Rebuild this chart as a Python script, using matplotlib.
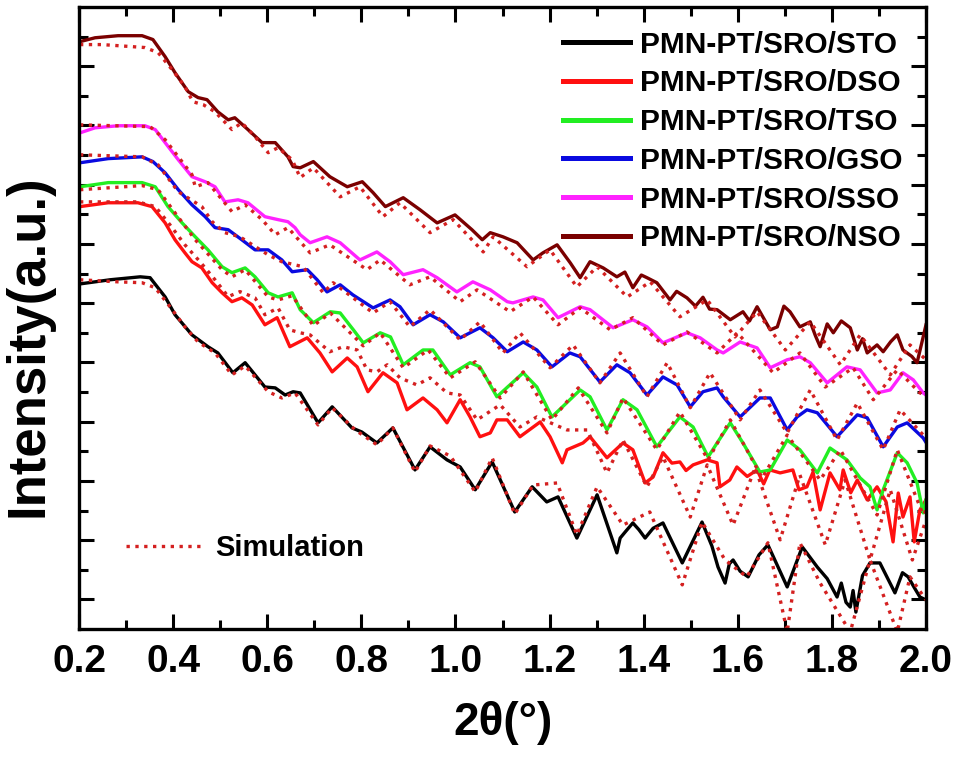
import numpy as np
import matplotlib.pyplot as plt

plt.rcParams['font.family'] = ['Liberation Sans', 'DejaVu Sans']
plt.rcParams['font.weight'] = 'bold'

# (2theta, log intensity offset)
sto_exp = [(0.202, 10.65), (0.266, 10.79), (0.330, 10.89), (0.351, 10.86), (0.383, 10.21),
           (0.404, 9.61), (0.440, 8.93), (0.474, 8.53), (0.495, 8.32), (0.527, 7.65),
           (0.553, 7.99), (0.595, 7.17), (0.617, 7.14), (0.638, 6.90), (0.655, 7.01),
           (0.670, 6.97), (0.708, 5.96), (0.738, 6.50), (0.780, 5.79), (0.801, 5.65),
           (0.833, 5.28), (0.867, 5.79), (0.914, 4.37), (0.946, 5.15), (0.982, 4.71),
           (1.010, 4.47), (1.042, 3.70), (1.078, 4.64), (1.126, 2.95), (1.163, 3.80),
           (1.194, 3.29), (1.218, 3.46), (1.258, 2.07), (1.301, 3.53), (1.343, 1.57),
           (1.350, 2.07), (1.362, 2.30), (1.377, 2.58), (1.390, 2.35), (1.403, 2.07),
           (1.420, 2.40), (1.441, 2.58), (1.482, 1.23), (1.524, 2.61), (1.545, 1.80),
           (1.558, 1.09), (1.573, 0.55), (1.582, 1.20), (1.590, 1.33), (1.605, 0.95),
           (1.622, 0.76), (1.645, 1.50), (1.664, 1.84), (1.705, 0.42), (1.737, 1.77),
           (1.769, 1.09), (1.790, 0.70), (1.811, 0.08), (1.820, 0.55), (1.830, -0.10),
           (1.839, -0.26), (1.845, 0.30), (1.851, -0.43), (1.865, 0.80), (1.881, 1.23),
           (1.902, 1.23), (1.934, 0.22), (1.950, 0.90), (1.962, 0.76), (1.975, 0.40),
           (1.987, 0.08), (2.000, -0.02)]
sto_sim = [(0.202, 10.79), (0.283, 10.72), (0.334, 10.69), (0.362, 10.52), (0.398, 9.78),
           (0.425, 9.20), (0.453, 8.69), (0.489, 8.32), (0.525, 7.58), (0.553, 7.88),
           (0.602, 7.01), (0.631, 6.80), (0.659, 6.97), (0.708, 5.89), (0.738, 6.47),
           (0.787, 5.72), (0.833, 5.22), (0.867, 5.79), (0.914, 4.30), (0.946, 5.18),
           (0.989, 4.84), (1.042, 3.63), (1.078, 4.78), (1.126, 2.88), (1.165, 3.86),
           (1.216, 3.93), (1.258, 2.18), (1.301, 3.80), (1.356, 2.51), (1.413, 2.95),
           (1.482, 0.49), (1.524, 2.61), (1.573, 1.33), (1.619, 0.76), (1.664, 1.91),
           (1.705, -1.10), (1.732, 1.91), (1.775, 0.55), (1.839, -1.10), (1.881, 1.33),
           (1.939, -1.10), (1.966, 0.76), (2.000, -0.02)]

dso_exp = [(0.202, 13.26), (0.262, 13.39), (0.325, 13.39), (0.355, 13.26), (0.383, 12.71),
           (0.404, 12.14), (0.425, 11.70), (0.440, 11.40), (0.461, 11.19), (0.483, 10.69),
           (0.504, 10.35), (0.525, 10.05), (0.546, 10.18), (0.568, 9.94), (0.595, 9.27),
           (0.621, 9.51), (0.648, 8.53), (0.685, 8.83), (0.712, 8.32), (0.738, 7.68),
           (0.770, 8.15), (0.791, 7.85), (0.814, 7.01), (0.846, 7.65), (0.876, 7.31),
           (0.897, 6.40), (0.931, 6.80), (0.961, 6.40), (0.982, 5.96), (1.010, 6.74),
           (1.031, 6.16), (1.052, 5.49), (1.074, 5.62), (1.088, 6.06), (1.110, 6.06),
           (1.137, 5.49), (1.180, 5.99), (1.201, 5.49), (1.227, 4.61), (1.237, 5.05),
           (1.271, 5.28), (1.286, 5.49), (1.322, 4.78), (1.356, 5.28), (1.377, 5.05),
           (1.403, 3.93), (1.420, 4.13), (1.441, 4.95), (1.460, 4.60), (1.477, 4.64),
           (1.490, 4.35), (1.505, 4.54), (1.535, 4.71), (1.556, 4.61), (1.562, 3.80),
           (1.583, 4.03), (1.598, 4.47), (1.620, 4.15), (1.641, 4.37), (1.655, 3.90),
           (1.668, 4.37), (1.690, 4.27), (1.717, 4.37), (1.730, 3.70), (1.747, 3.80),
           (1.760, 4.30), (1.775, 3.02), (1.796, 4.27), (1.817, 3.70), (1.824, 4.37),
           (1.840, 3.60), (1.854, 4.03), (1.875, 3.36), (1.896, 3.80), (1.915, 3.30),
           (1.930, 1.94), (1.941, 3.59), (1.951, 2.78), (1.966, 3.46), (1.975, 1.94),
           (1.987, 3.02), (2.000, 3.36)]
dso_sim = [(0.202, 13.42), (0.325, 13.42), (0.362, 13.26), (0.393, 12.65), (0.425, 11.97),
           (0.457, 11.40), (0.489, 10.79), (0.517, 10.22), (0.542, 10.39), (0.574, 10.18),
           (0.595, 9.61), (0.623, 9.84), (0.648, 9.10), (0.670, 9.00), (0.691, 8.93),
           (0.733, 8.36), (0.761, 8.53), (0.791, 8.42), (0.812, 7.75), (0.833, 7.68),
           (0.855, 7.92), (0.882, 7.48), (0.918, 7.24), (0.946, 7.48), (0.982, 6.97),
           (1.010, 6.90), (1.046, 6.06), (1.095, 6.57), (1.137, 5.82), (1.173, 6.16),
           (1.237, 5.72), (1.280, 5.72), (1.322, 4.27), (1.356, 5.38), (1.407, 3.80),
           (1.441, 4.81), (1.499, 2.78), (1.535, 4.54), (1.590, 2.51), (1.637, 4.44),
           (1.690, 2.01), (1.732, 4.20), (1.786, 1.84), (1.828, 4.03), (1.881, 1.33),
           (1.924, 3.70), (1.971, 1.33), (2.000, 2.68)]

tso_exp = [(0.202, 13.93), (0.262, 14.07), (0.334, 14.07), (0.362, 13.93), (0.389, 13.26),
           (0.419, 12.71), (0.447, 12.24), (0.474, 11.80), (0.504, 11.23), (0.525, 11.03),
           (0.553, 11.19), (0.574, 10.89), (0.602, 10.35), (0.623, 10.21), (0.653, 10.35),
           (0.670, 9.78), (0.698, 9.34), (0.734, 9.71), (0.755, 9.67), (0.783, 9.10),
           (0.804, 8.66), (0.840, 9.00), (0.862, 8.86), (0.889, 7.92), (0.931, 8.42),
           (0.952, 8.42), (0.989, 7.58), (1.031, 7.99), (1.052, 7.85), (1.088, 6.84),
           (1.144, 7.65), (1.173, 7.17), (1.205, 6.16), (1.265, 7.07), (1.286, 6.84),
           (1.322, 5.72), (1.356, 6.74), (1.386, 6.40), (1.428, 5.15), (1.477, 6.16),
           (1.505, 5.82), (1.537, 4.81), (1.556, 5.28), (1.584, 5.96), (1.611, 5.28),
           (1.647, 4.30), (1.669, 4.37), (1.705, 5.38), (1.732, 5.05), (1.769, 4.27),
           (1.796, 5.11), (1.832, 4.71), (1.860, 4.10), (1.881, 3.80), (1.896, 3.02),
           (1.909, 3.70), (1.939, 4.95), (1.960, 4.61), (1.981, 3.93), (1.994, 2.92),
           (2.000, 3.36)]
tso_sim = [(0.202, 13.83), (0.334, 13.97), (0.368, 13.83), (0.404, 13.05), (0.447, 12.14),
           (0.504, 11.13), (0.525, 10.89), (0.553, 11.13), (0.602, 10.21), (0.623, 10.11),
           (0.653, 10.25), (0.698, 9.24), (0.734, 9.67), (0.804, 8.56), (0.840, 9.00),
           (0.889, 7.82), (0.942, 8.42), (0.989, 7.48), (1.042, 8.02), (1.095, 6.80),
           (1.144, 7.68), (1.205, 6.06), (1.261, 7.14), (1.322, 5.62), (1.356, 6.80),
           (1.428, 5.05), (1.477, 6.33), (1.537, 4.71), (1.584, 6.06), (1.652, 4.10),
           (1.705, 5.55), (1.775, 4.03), (1.818, 5.05), (1.896, 2.85), (1.939, 5.05),
           (1.994, 2.85), (2.000, 3.00)]

gso_exp = [(0.202, 14.74), (0.262, 14.88), (0.334, 14.94), (0.357, 14.78), (0.383, 14.40),
           (0.411, 13.83), (0.440, 13.32), (0.468, 12.92), (0.489, 12.55), (0.517, 12.48),
           (0.546, 12.14), (0.574, 11.80), (0.602, 11.80), (0.631, 11.46), (0.653, 11.06),
           (0.685, 11.13), (0.706, 10.79), (0.727, 10.38), (0.755, 10.62), (0.782, 10.28),
           (0.825, 9.84), (0.861, 10.11), (0.882, 9.88), (0.910, 9.27), (0.946, 9.61),
           (0.974, 9.37), (1.010, 8.83), (1.052, 9.17), (1.080, 8.83), (1.110, 8.36),
           (1.144, 8.69), (1.173, 8.42), (1.205, 7.85), (1.243, 8.32), (1.265, 8.19),
           (1.307, 7.34), (1.343, 7.92), (1.371, 7.65), (1.407, 6.90), (1.441, 7.51),
           (1.471, 7.24), (1.499, 6.50), (1.526, 7.01), (1.556, 7.14), (1.569, 6.84),
           (1.605, 6.16), (1.647, 6.80), (1.669, 6.80), (1.705, 5.72), (1.726, 6.16),
           (1.747, 6.40), (1.769, 6.30), (1.811, 5.49), (1.854, 6.23), (1.875, 6.13),
           (1.909, 5.15), (1.939, 5.82), (1.960, 5.96), (1.994, 5.45), (2.000, 5.30)]
gso_sim = [(0.202, 15.01), (0.334, 14.94), (0.368, 14.67), (0.411, 13.76), (0.461, 13.26),
           (0.483, 12.75), (0.510, 12.38), (0.542, 12.24), (0.602, 11.63), (0.631, 11.40),
           (0.676, 11.23), (0.719, 10.35), (0.740, 10.69), (0.825, 9.67), (0.861, 10.05),
           (0.903, 9.20), (0.946, 9.78), (1.010, 8.76), (1.052, 9.37), (1.101, 8.32),
           (1.137, 9.00), (1.201, 7.82), (1.250, 8.59), (1.307, 7.31), (1.350, 8.32),
           (1.407, 6.84), (1.450, 7.99), (1.499, 6.47), (1.541, 7.65), (1.605, 6.06),
           (1.647, 7.07), (1.705, 5.62), (1.754, 7.07), (1.811, 5.38), (1.854, 6.63),
           (1.909, 5.05), (1.945, 6.40), (1.994, 5.55), (2.000, 5.50)]

sso_exp = [(0.202, 15.75), (0.234, 15.92), (0.283, 15.99), (0.340, 15.99), (0.362, 15.86),
           (0.383, 15.42), (0.411, 14.84), (0.440, 14.27), (0.468, 14.10), (0.489, 13.93),
           (0.510, 13.42), (0.538, 13.49), (0.559, 13.39), (0.595, 12.92), (0.623, 12.82),
           (0.644, 12.75), (0.659, 12.55), (0.670, 12.31), (0.691, 12.04), (0.727, 12.24),
           (0.755, 12.04), (0.797, 11.46), (0.833, 11.73), (0.861, 11.40), (0.889, 10.96),
           (0.931, 11.13), (0.961, 10.86), (1.003, 10.38), (1.037, 10.72), (1.074, 10.45),
           (1.110, 10.05), (1.122, 10.01), (1.165, 10.21), (1.186, 10.11), (1.218, 9.51),
           (1.265, 9.88), (1.286, 9.78), (1.335, 9.17), (1.377, 9.44), (1.407, 9.20),
           (1.441, 8.66), (1.492, 9.00), (1.520, 8.83), (1.556, 8.42), (1.569, 8.32),
           (1.605, 8.69), (1.641, 8.49), (1.669, 7.82), (1.705, 8.09), (1.732, 8.19),
           (1.754, 7.99), (1.790, 7.31), (1.832, 7.85), (1.860, 7.75), (1.896, 6.97),
           (1.924, 7.07), (1.951, 7.65), (1.973, 7.41), (1.994, 6.97), (2.000, 6.90)]
sso_sim = [(0.202, 16.02), (0.351, 15.96), (0.383, 15.52), (0.440, 14.34), (0.447, 13.93),
           (0.474, 14.07), (0.525, 13.09), (0.553, 13.32), (0.589, 12.82), (0.617, 12.31),
           (0.644, 12.55), (0.691, 11.70), (0.733, 11.97), (0.812, 11.13), (0.840, 11.46),
           (0.903, 10.62), (0.946, 10.89), (1.010, 10.05), (1.046, 10.45), (1.116, 9.71),
           (1.165, 10.21), (1.218, 9.27), (1.265, 9.84), (1.329, 9.10), (1.377, 9.51),
           (1.441, 8.59), (1.492, 9.03), (1.556, 8.32), (1.599, 9.00), (1.675, 7.65),
           (1.732, 8.32), (1.786, 7.17), (1.845, 7.82), (1.888, 6.74), (1.939, 7.75),
           (1.987, 6.97), (2.000, 6.90)]

nso_exp = [(0.202, 18.83), (0.234, 18.96), (0.283, 19.03), (0.334, 19.03), (0.357, 18.90),
           (0.383, 18.32), (0.404, 17.78), (0.432, 17.14), (0.453, 16.94), (0.472, 16.87),
           (0.495, 16.46), (0.517, 16.19), (0.531, 16.26), (0.559, 15.86), (0.589, 15.42),
           (0.617, 15.42), (0.644, 14.94), (0.655, 14.61), (0.670, 14.57), (0.698, 14.78),
           (0.733, 14.27), (0.770, 13.93), (0.802, 14.10), (0.825, 13.73), (0.851, 13.26),
           (0.889, 13.56), (0.925, 13.15), (0.961, 12.71), (0.999, 12.98), (1.035, 12.48),
           (1.057, 12.14), (1.074, 12.38), (1.101, 12.24), (1.131, 12.04), (1.165, 11.46),
           (1.186, 11.70), (1.216, 11.97), (1.244, 11.36), (1.265, 10.86), (1.286, 11.40),
           (1.314, 11.19), (1.343, 10.89), (1.360, 11.05), (1.377, 10.52), (1.395, 10.95),
           (1.407, 10.86), (1.428, 10.69), (1.456, 10.11), (1.470, 10.40), (1.492, 10.18),
           (1.510, 9.90), (1.526, 10.20), (1.540, 9.80), (1.556, 9.78), (1.584, 9.44),
           (1.611, 9.71), (1.625, 9.40), (1.641, 9.88), (1.669, 9.10), (1.684, 9.20),
           (1.698, 9.90), (1.711, 9.71), (1.732, 9.20), (1.754, 9.37), (1.765, 8.90),
           (1.775, 8.53), (1.790, 9.30), (1.803, 9.00), (1.820, 9.40), (1.839, 9.17),
           (1.854, 8.42), (1.865, 8.80), (1.875, 8.32), (1.896, 8.59), (1.909, 8.36),
           (1.925, 8.70), (1.939, 8.93), (1.951, 8.42), (1.970, 8.20), (1.981, 7.99),
           (1.994, 8.86), (2.000, 9.27)]
nso_sim = [(0.202, 18.73), (0.249, 18.73), (0.313, 18.66), (0.340, 18.63), (0.368, 18.46),
           (0.398, 17.88), (0.425, 17.31), (0.442, 16.80), (0.464, 16.70), (0.489, 16.46),
           (0.525, 15.86), (0.546, 16.09), (0.574, 15.62), (0.602, 15.08), (0.623, 15.25),
           (0.653, 14.84), (0.670, 14.24), (0.698, 14.57), (0.755, 13.59), (0.797, 13.93),
           (0.846, 12.92), (0.882, 13.39), (0.946, 12.38), (0.995, 12.82), (1.059, 11.73),
           (1.080, 12.24), (1.152, 11.23), (1.201, 11.80), (1.258, 10.55), (1.301, 11.23),
           (1.365, 10.21), (1.414, 10.72), (1.477, 9.54), (1.535, 10.11), (1.594, 8.86),
           (1.641, 9.71), (1.701, 8.42), (1.754, 9.37), (1.818, 7.92), (1.860, 8.93),
           (1.924, 7.58), (1.966, 8.59), (2.000, 8.09)]

labels = ['PMN-PT/SRO/STO', 'PMN-PT/SRO/DSO', 'PMN-PT/SRO/TSO',
          'PMN-PT/SRO/GSO', 'PMN-PT/SRO/SSO', 'PMN-PT/SRO/NSO']
colors = ['#000000', '#ff1010', '#22ee22', '#0a0ae0', '#ff22ff', '#7a0000']
exp_data = [sto_exp, dso_exp, tso_exp, gso_exp, sso_exp, nso_exp]
sim_data = [sto_sim, dso_sim, tso_sim, gso_sim, sso_sim, nso_sim]
sim_color = '#d42020'

fig = plt.figure(figsize=(9.58, 7.57), dpi=100)
ax = fig.add_axes([0.0825, 0.1691, 0.8841, 0.8217])

handles = []
for d, c, lab in zip(exp_data, colors, labels):
    d = np.array(d)
    h, = ax.plot(d[:, 0], d[:, 1], color=c, lw=2.4, label=lab,
                 solid_joinstyle='round')
    handles.append(h)
for d in sim_data:
    d = np.array(d)
    sim_h, = ax.plot(d[:, 0], d[:, 1], color=sim_color, lw=2.4, ls=':')

ax.set_xlim(0.2, 2.0)
ax.set_ylim(-1, 20)
ax.set_xticks(np.arange(0.2, 2.01, 0.2))
ax.set_xticks(np.arange(0.3, 2.0, 0.2), minor=True)
ax.set_xticklabels([f'{v:.1f}' for v in np.arange(0.2, 2.01, 0.2)])
ax.set_yticks(np.arange(0, 20, 2))
ax.set_yticks(np.arange(1, 20, 2), minor=True)
ax.set_yticklabels([])
ax.tick_params(which='both', direction='in', top=True, right=True, width=2.2)
ax.tick_params(which='major', length=11, labelsize=28, pad=11)
ax.tick_params(which='minor', length=6.5)
for s in ax.spines.values():
    s.set_linewidth(2.4)

ax.set_xlabel('2θ(°)', fontsize=33, fontweight='bold')
ax.xaxis.set_label_coords(0.5, -0.115)
ax.set_ylabel('Intensity(a.u.)', fontsize=38, fontweight='bold')
ax.yaxis.set_label_coords(-0.03, 0.455)

leg1 = ax.legend(handles=handles, loc='upper left', bbox_to_anchor=(0.571, 0.962),
                 frameon=False, fontsize=21.5, handlelength=2.25, handletextpad=0.35,
                 labelspacing=0.36, borderpad=0, borderaxespad=0)
for lh in leg1.get_lines():
    lh.set_linewidth(3.6)
ax.add_artist(leg1)
ax.legend([sim_h], ['Simulation'], loc='upper left', bbox_to_anchor=(0.0555, 0.152),
          frameon=False, fontsize=21, handlelength=2.7, handletextpad=0.35,
          borderpad=0, borderaxespad=0)

fig.savefig('out.png', dpi=100)
